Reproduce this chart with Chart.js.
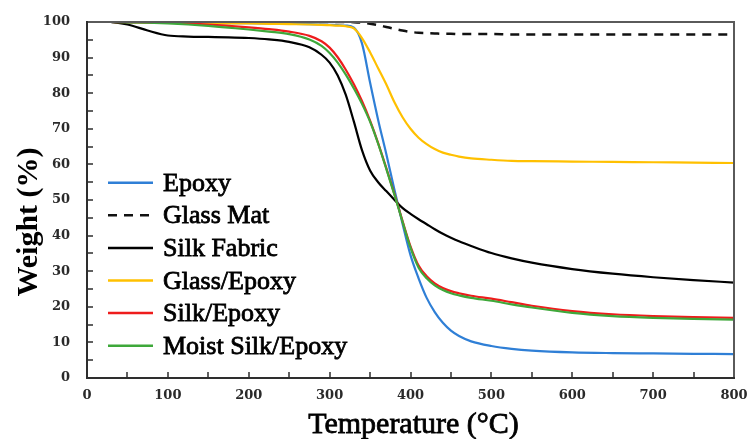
<!DOCTYPE html>
<html>
<head>
<meta charset="utf-8">
<script src="https://cdn.jsdelivr.net/npm/chart.js@4.4.0/dist/chart.umd.min.js"></script>
<style>
  html, body { margin: 0; padding: 0; background: #fff; }
  #wrap { width: 749px; height: 439px; }
</style>
</head>
<body>
<div id="wrap"><canvas id="tga" width="749" height="439"></canvas></div>
<script>
// temperature grid (°C) shared by all curves
const temps = [30, 50, 75, 100, 125, 150, 175, 200, 225, 250, 275, 290, 300, 310, 320, 330, 340, 350, 360, 370,
  380, 390, 400, 410, 420, 430, 440, 450, 460, 475, 500, 525, 550, 600, 650, 700, 750, 800];

// weight (%)
const epoxy = [100, 99.95, 99.9, 99.85, 99.8, 99.8, 99.7, 99.7, 99.6, 99.5, 99.4, 99.3, 99.2, 99.1, 99, 98.4, 94, 83,
  72.5, 63, 53, 43.5, 34.5, 28, 22.5, 18.5, 15.5, 13.3, 11.8, 10.3, 9, 8.2, 7.7, 7.2, 7, 6.9, 6.8, 6.7];
const glassMat = [100, 100, 100, 100, 100, 100, 100, 100, 100, 100, 100, 100, 100, 100, 100, 99.95, 99.8, 99.5,
  99.1, 98.6, 98.1, 97.6, 97.2, 97, 96.9, 96.8, 96.7, 96.7, 96.6, 96.6, 96.6, 96.5, 96.5, 96.5, 96.5, 96.5, 96.5, 96.5];
const silkFabric = [100, 99.3, 97.6, 96.2, 95.9, 95.8, 95.7, 95.5, 95.1, 94.4, 92.9, 90.8, 88.6, 85, 79.5, 72, 64,
  58.3, 55, 52.5, 50.1, 47.8, 46.1, 44.6, 43.2, 41.8, 40.5, 39.4, 38.4, 37.1, 35.1, 33.6, 32.4, 30.6, 29.3, 28.3, 27.5, 26.8];
const glassEpoxy = [100, 99.95, 99.9, 99.85, 99.8, 99.7, 99.6, 99.6, 99.5, 99.4, 99.3, 99.2, 99.1, 99, 98.8, 98.2,
  95.5, 91.5, 87, 82.5, 77.5, 73.3, 70, 67.5, 65.7, 64.3, 63.3, 62.7, 62.2, 61.7, 61.3, 61, 60.9, 60.8, 60.7, 60.6, 60.5, 60.4];
const silkEpoxy = [100, 99.95, 99.9, 99.8, 99.6, 99.3, 98.9, 98.5, 98, 97.3, 96.1, 94.6, 92.8, 90.1, 86.6, 82.5, 77.8, 72.3,
  66, 59, 51.8, 44.2, 37, 31.6, 28.6, 26.6, 25.3, 24.4, 23.8, 23.1, 22.3, 21.3, 20.3, 18.8, 17.9, 17.4, 17.1, 16.9];
const moistSilkEpoxy = [100, 99.9, 99.8, 99.6, 99.3, 98.9, 98.4, 97.9, 97.3, 96.6, 95.1, 93.3, 91.3, 88.6, 85.2, 81.3,
  77, 72, 65.8, 58.8, 51.6, 44, 36.6, 31, 28, 26, 24.7, 23.8, 23.2, 22.5, 21.7, 20.7, 19.8, 18.3, 17.4, 16.9, 16.6, 16.4];

const xTickLabels = [0, 100, 200, 300, 400, 500, 600, 700, 800];
const yTickLabels = [0, 10, 20, 30, 40, 50, 60, 70, 80, 90, 100];

const seriesNames = ['Epoxy', 'Glass Mat', 'Silk Fabric', 'Glass/Epoxy', 'Silk/Epoxy', 'Moist Silk/Epoxy'];
const seriesData = [epoxy, glassMat, silkFabric, glassEpoxy, silkEpoxy, moistSilkEpoxy];
const seriesColors = ['#2f7fd6', '#111111', '#000000', '#ffc000', '#ee1c1c', '#3ea83a'];
const seriesDash = [[], [9, 7], [], [], [], []];
const drawOrder = [4, 5, 2, 3, 1, 0];

const toPoints = arr => arr.map((w, i) => ({ x: temps[i], y: w }));

const framePlugin = {
  id: 'tgaFrame',
  afterDraw(chart) {
    const ctx = chart.ctx;
    const a = chart.chartArea;
    const xs = chart.scales.x;
    const ys = chart.scales.y;
    const L = Math.round(xs.getPixelForValue(0));
    const R = Math.round(xs.getPixelForValue(800));
    const T = Math.round(ys.getPixelForValue(100));
    const B = Math.round(ys.getPixelForValue(0));

    // axis titles
    ctx.save();
    ctx.fillStyle = '#000';
    ctx.strokeStyle = '#000';
    ctx.font = "30px 'Liberation Serif'";
    ctx.textAlign = 'center';
    ctx.textBaseline = 'alphabetic';
    ctx.lineWidth = 0.8;
    ctx.fillText('Temperature (°C)', (a.left + a.right) / 2 + 3, 433);
    ctx.strokeText('Temperature (°C)', (a.left + a.right) / 2 + 3, 433);
    ctx.translate(37, 222);
    ctx.rotate(-Math.PI / 2);
    ctx.font = "bold 30px 'Liberation Serif'";
    ctx.fillText('Weight (%)', 0, 0);
    ctx.restore();

    // legend
    ctx.save();
    ctx.font = "26px 'Liberation Serif'";
    ctx.textAlign = 'left';
    ctx.textBaseline = 'alphabetic';
    chart.data.datasets.forEach((ds, i) => {
      const y = 182.7 + i * 32.6;
      ctx.strokeStyle = ds.borderColor;
      ctx.lineWidth = 2.5;
      ctx.setLineDash(ds.borderDash || []);
      ctx.beginPath();
      ctx.moveTo(108, y);
      ctx.lineTo(153, y);
      ctx.stroke();
      ctx.setLineDash([]);
      ctx.fillStyle = '#000';
      ctx.strokeStyle = '#000';
      ctx.lineWidth = 0.8;
      ctx.fillText(ds.label, 163, y + 8);
      ctx.strokeText(ds.label, 163, y + 8);
    });
    ctx.restore();

    // plot box and inward tick marks, filled rather than stroked
    ctx.save();
    ctx.globalAlpha = 1;
    ctx.fillStyle = '#5a5a5a';
    ctx.fillRect(L - 1, T - 1, R - L + 2, 2);   // top
    ctx.fillRect(R - 1, T - 1, 2, B - T + 2);   // right
    ctx.fillStyle = '#2e2e2e';
    ctx.fillRect(L - 1, T - 1, 2, B - T + 2);   // left
    ctx.fillRect(L - 1, B - 1, R - L + 2, 2);   // bottom
    for (let t = 50; t < 800; t += 50) {
      const x = Math.round(xs.getPixelForValue(t));
      ctx.fillRect(x - 0.75, B - 6, 1.5, 6);
    }
    for (let w = 5; w < 100; w += 5) {
      const y = Math.round(ys.getPixelForValue(w));
      ctx.fillRect(L, y - 0.75, 6, 1.5);
    }
    ctx.restore();
  }
};

const datasets = seriesNames.map((name, i) => ({
  label: name,
  data: toPoints(seriesData[i]),
  borderColor: seriesColors[i],
  borderWidth: i === 1 ? 2.5 : 2.2,
  borderDash: seriesDash[i],
  pointRadius: 0,
  fill: false,
  cubicInterpolationMode: 'monotone',
  order: drawOrder[i]
}));

const tickFont = { family: "'DejaVu Serif'", size: 13, weight: 'bold' };

new Chart(document.getElementById('tga'), {
  type: 'line',
  data: { datasets },
  options: {
    responsive: false,
    animation: false,
    layout: { padding: { top: 22, right: 15, left: 0, bottom: 0 } },
    plugins: { legend: { display: false }, tooltip: { enabled: false } },
    scales: {
      x: {
        type: 'linear',
        min: 0,
        max: 800,
        afterBuildTicks: s => { s.ticks = xTickLabels.map(v => ({ value: v })); },
        afterFit: s => { s.height = 61; s.paddingLeft = 0; s.paddingRight = 0; },
        grid: { display: false, drawTicks: false },
        border: { display: false },
        ticks: { color: '#2a2a2a', font: tickFont, padding: 10, maxRotation: 0 }
      },
      y: {
        type: 'linear',
        min: 0,
        max: 100,
        afterBuildTicks: s => { s.ticks = yTickLabels.map(v => ({ value: v })); },
        afterFit: s => { s.width = 87; s.paddingTop = 0; s.paddingBottom = 0; },
        grid: { display: false, drawTicks: false },
        border: { display: false },
        ticks: { color: '#2a2a2a', font: tickFont, padding: 17 }
      }
    }
  },
  plugins: [framePlugin]
});
</script>
</body>
</html>
